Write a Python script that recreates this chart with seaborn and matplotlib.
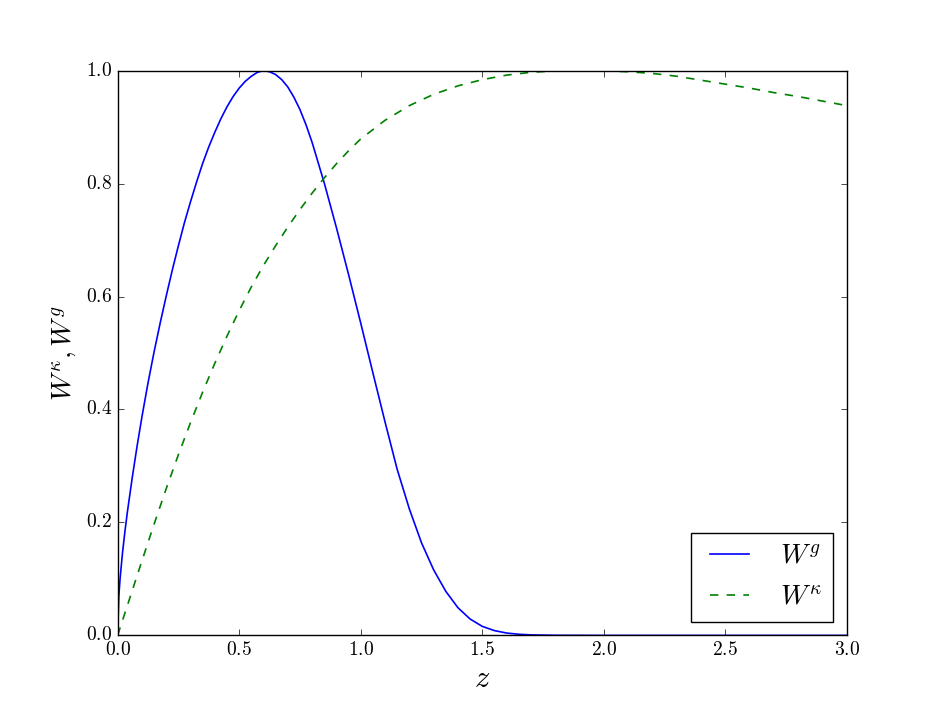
#!/usr/bin/env python3
"""
Lensing and galaxy window functions vs redshift
"""

import pandas as pd
import seaborn as sns
import matplotlib
matplotlib.use('Agg')
import matplotlib.pyplot as plt

# W^g
z_g = [0.0, 0.005, 0.01, 0.02, 0.03, 0.04, 0.06, 0.08, 0.10, 0.125, 0.15,
       0.175, 0.20, 0.225, 0.25, 0.275, 0.30, 0.325, 0.35, 0.375, 0.40,
       0.425, 0.45, 0.475, 0.50, 0.525, 0.55, 0.575, 0.60, 0.625, 0.65,
       0.675, 0.70, 0.725, 0.75, 0.775, 0.80, 0.85, 0.90, 0.95, 1.00, 1.05,
       1.10, 1.15, 1.20, 1.25, 1.30, 1.35, 1.40, 1.45, 1.50, 1.55, 1.60,
       1.65, 1.70, 1.80, 2.00, 2.50, 3.00]
w_g = [0.0, 0.07, 0.10, 0.146, 0.184, 0.218, 0.279, 0.335, 0.387, 0.447, 0.502,
       0.553, 0.601, 0.647, 0.69, 0.731, 0.768, 0.803, 0.836, 0.865, 0.891,
       0.915, 0.936, 0.954, 0.969, 0.981, 0.99, 0.997, 1.0, 0.998, 0.993,
       0.984, 0.971, 0.953, 0.931, 0.904, 0.873, 0.801, 0.722, 0.639, 0.553, 0.465,
       0.378, 0.294, 0.224, 0.164, 0.116, 0.078, 0.049, 0.029, 0.016, 0.0085, 0.0042,
       0.002, 0.0009, 0.0002, 0.0, 0.0, 0.0]

# W^kappa
z_k = [0.0, 0.05, 0.10, 0.15, 0.20, 0.25, 0.30, 0.35, 0.40, 0.45, 0.50,
       0.55, 0.60, 0.65, 0.70, 0.75, 0.80, 0.85, 0.90, 0.95, 1.00, 1.10,
       1.20, 1.30, 1.40, 1.50, 1.60, 1.70, 1.80, 1.90, 2.00, 2.10, 2.20,
       2.30, 2.40, 2.50, 2.60, 2.70, 2.80, 2.90, 3.00]
w_k = [0.0, 0.066, 0.132, 0.197, 0.26, 0.32, 0.377, 0.431, 0.482, 0.53, 0.575,
       0.617, 0.655, 0.69, 0.723, 0.754, 0.783, 0.81, 0.835, 0.858, 0.879, 0.912,
       0.938, 0.958, 0.973, 0.984, 0.992, 0.997, 0.9995, 1.0, 0.9995, 0.998, 0.995,
       0.99, 0.983, 0.976, 0.969, 0.961, 0.954, 0.946, 0.938]


def main():
    plt.style.use('classic')
    plt.rcParams['mathtext.fontset'] = 'cm'
    plt.rcParams['font.family'] = 'serif'
    plt.rcParams['font.serif'] = ['cmr10', 'DejaVu Serif']
    plt.rcParams['axes.formatter.use_mathtext'] = True

    df_g = pd.DataFrame({'z': z_g, 'W': w_g})
    df_k = pd.DataFrame({'z': z_k, 'W': w_k})

    fig, ax = plt.subplots(figsize=(9.41, 7.06), dpi=100)
    fig.subplots_adjust(left=0.125, right=0.9, bottom=0.1, top=0.9)

    sns.lineplot(data=df_g, x='z', y='W', ax=ax, color='b', lw=1.2,
                 label=r'$W^g$')
    sns.lineplot(data=df_k, x='z', y='W', ax=ax, color='g', lw=1.2,
                 linestyle='--', label=r'$W^\kappa$')

    ax.set_xlim(0, 3)
    ax.set_ylim(0, 1)
    ax.set_xlabel(r'$z$', fontsize=22)
    ax.set_ylabel(r'$W^\kappa, W^g$', fontsize=20)
    ax.tick_params(labelsize=14)
    ax.legend(loc='lower right', fontsize=20, frameon=True, fancybox=False)

    plt.savefig('out.png', dpi=100)


if __name__ == "__main__":
    main()
